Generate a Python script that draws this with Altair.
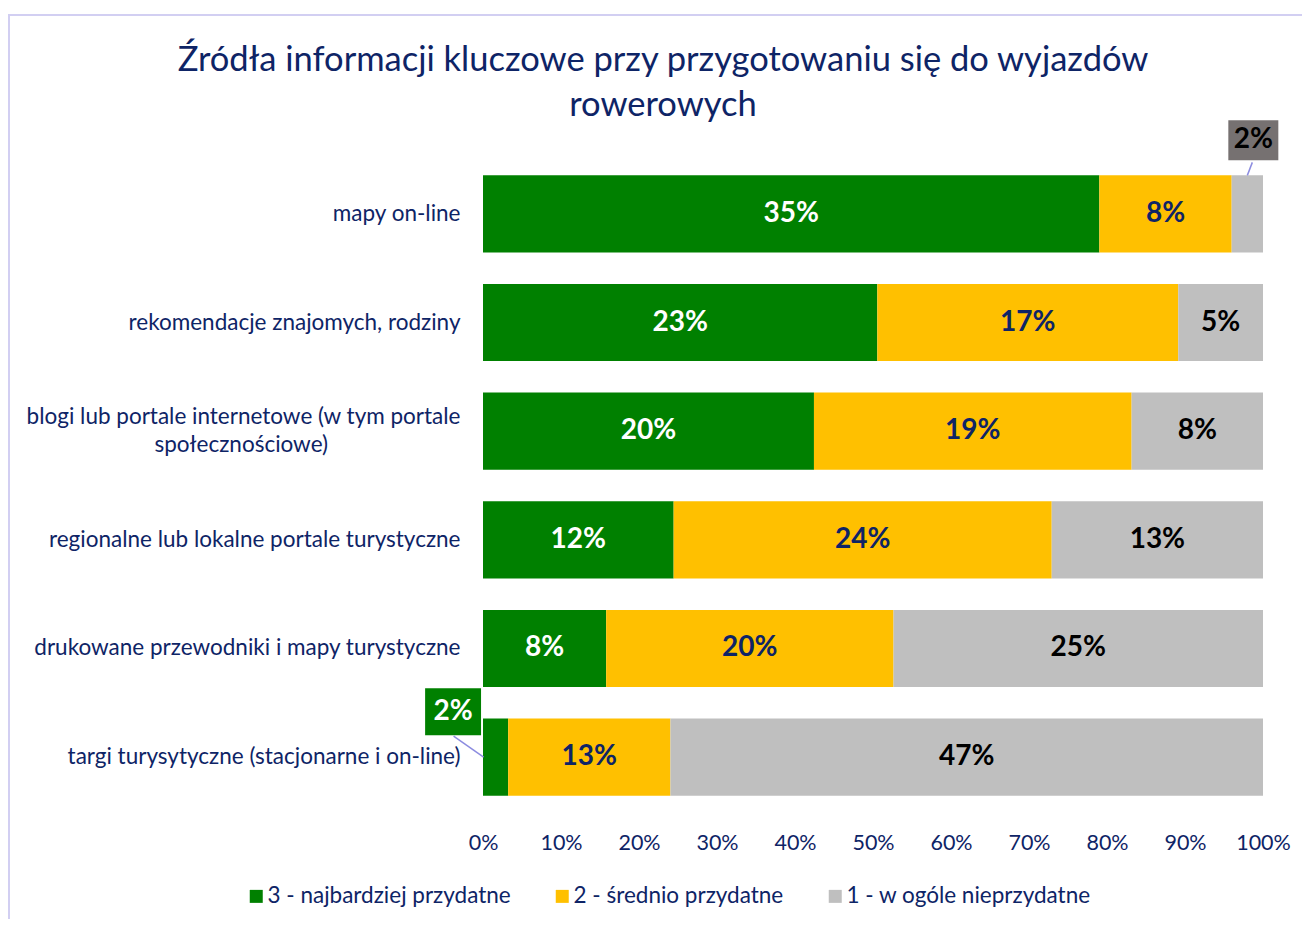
import altair as alt
import pandas as pd

NB = "\u00a0"
ZW = "\u200b"
categories = [
    "mapy on-line",
    "rekomendacje znajomych, rodziny",
    "blogi lub portale internetowe (w tym portale|społecznościowe)" + NB * 23 + ZW,
    "regionalne lub lokalne portale turystyczne",
    "drukowane przewodniki i mapy turystyczne",
    "targi turysytyczne (stacjonarne i on-line)",
]
series = ["3 - najbardziej przydatne", "2 - średnio przydatne", "1 - w ogóle nieprzydatne"]
vals_3 = [35.4, 22.8, 19.9, 12.0, 8.4, 2.0]
vals_2 = [7.6, 17.4, 19.1, 23.8, 19.6, 12.9]
vals_1 = [1.8, 4.9, 7.9, 13.3, 25.2, 47.1]

colors = ["#008000", "#FFC000", "#BFBFBF"]
text_colors = ["#FFFFFF", "#0E2466", "#000000"]
NAVY = "#0E2466"
FONT = "Lato"

rows = []
for i, cat in enumerate(categories):
    v = [vals_3[i], vals_2[i], vals_1[i]]
    tot = sum(v)
    start = 0.0
    for j, s in enumerate(series):
        p = v[j] / tot
        rows.append({
            "cat": cat, "series": s, "value": v[j],
            "start": start, "end": start + p, "mid": start + p / 2,
            "label": f"{round(v[j])}%", "tcolor": text_colors[j],
            "small": p < 0.05,
        })
        start += p
df = pd.DataFrame(rows)

base = alt.Chart(df)
ysc = alt.Scale(domain=categories, paddingInner=0.29, paddingOuter=0.15)
Y = alt.Y("cat:N", scale=ysc, sort=categories, title=None,
          axis=alt.Axis(labelExpr="split(datum.value, '|')", labelFontSize=22.5,
                        labelColor=NAVY, labelFont=FONT, labelPadding=23,
                        labelLineHeight=28,
                        labelOffset={"condition": {"test": "indexof(datum.value, '|') >= 0",
                                                   "value": -14}, "value": 0},
                        labelLimit=600, ticks=False, domain=False, grid=False))

bars = base.mark_bar().encode(
    y=Y,
    x=alt.X("start:Q", scale=alt.Scale(domain=[0, 1], nice=False), title=None,
            axis=alt.Axis(format=".0%", values=[i / 10 for i in range(11)],
                          labelFontSize=21.5, labelColor=NAVY, labelFont=FONT,
                          labelFlush=False, labelPadding=20, ticks=False,
                          domain=False, grid=False)),
    x2="end:Q",
    color=alt.Color("series:N", scale=alt.Scale(domain=series, range=colors),
                    sort=series,
                    legend=alt.Legend(title=None, orient="none", direction="horizontal",
                                      legendX=-238, legendY=726, symbolType="square",
                                      symbolSize=169, symbolStrokeWidth=0,
                                      labelFontSize=22.5, labelColor=NAVY, labelFont=FONT,
                                      columnPadding=40, labelOffset=0, labelLimit=400)),
)

labels = base.transform_filter("!datum.small").mark_text(
    fontSize=28, fontWeight="bold", font=FONT, baseline="middle", align="center"
).encode(y=alt.Y("cat:N", sort=categories), x="mid:Q", text="label:N",
         color=alt.Color("tcolor:N", scale=None))

box_h = "M-1.25,-1L1.25,-1L1.25,1L-1.25,1Z"
box_g = "M-1.19,-1L1.19,-1L1.19,1L-1.19,1Z"


def callout(cat, ser, dx, dy, box_path, box_size, box_fill, txt_color, line_path, line_dx, line_dy):
    sub = base.transform_filter(
        (alt.datum.cat == cat) & (alt.datum.series == ser))
    enc = dict(y=alt.Y("cat:N", sort=categories), x="mid:Q")
    line = sub.mark_point(shape=line_path, size=10000, filled=False, stroke="#8C8CE0",
                          strokeWidth=1.5, opacity=1, xOffset=line_dx,
                          yOffset=line_dy).encode(**enc)
    box = sub.mark_point(shape=box_path, size=box_size, filled=True, fill=box_fill,
                         opacity=1, strokeWidth=0, xOffset=dx, yOffset=dy).encode(**enc)
    txt = sub.mark_text(fontSize=28, fontWeight="bold", font=FONT, color=txt_color,
                        baseline="middle", align="center", xOffset=dx,
                        yOffset=dy).encode(text="label:N", **enc)
    return [line, box, txt]


c1 = callout(categories[0], series[2], 6, -73.5, box_h, 1600, "#767171", "#000000",
             "M0,0L0.1,-0.26", 0, -38.5)
c2 = callout(categories[5], series[0], -42.5, -45.5, box_g, 2209, "#008000", "#FFFFFF",
             "M0,0L-0.6,-0.42", -12, 0)

frame = alt.Chart(pd.DataFrame({"k": [0]})).mark_rect(
    fillOpacity=0, stroke="#D2CFF2", strokeWidth=2
).encode(x=alt.value(-474), x2=alt.value(1000), y=alt.value(-144), y2=alt.value(1000))

chart = alt.layer(frame, bars, labels, *c1, *c2).properties(
    width=780, height=653,
    title=alt.TitleParams(
        ["Źródła informacji kluczowe przy przygotowaniu się do wyjazdów", "rowerowych"],
        anchor="middle", dx=-210, fontSize=34.5, font=FONT, fontWeight="normal",
        color=NAVY, lineHeight=45, offset=-109),
    autosize=alt.AutoSizeParams(type="none"),
    padding={"left": 475, "top": 151, "right": 39, "bottom": 107},
).configure(background="white").configure_view(stroke=None)

chart.save("out.html", embed_options={"renderer": "svg", "actions": False})
